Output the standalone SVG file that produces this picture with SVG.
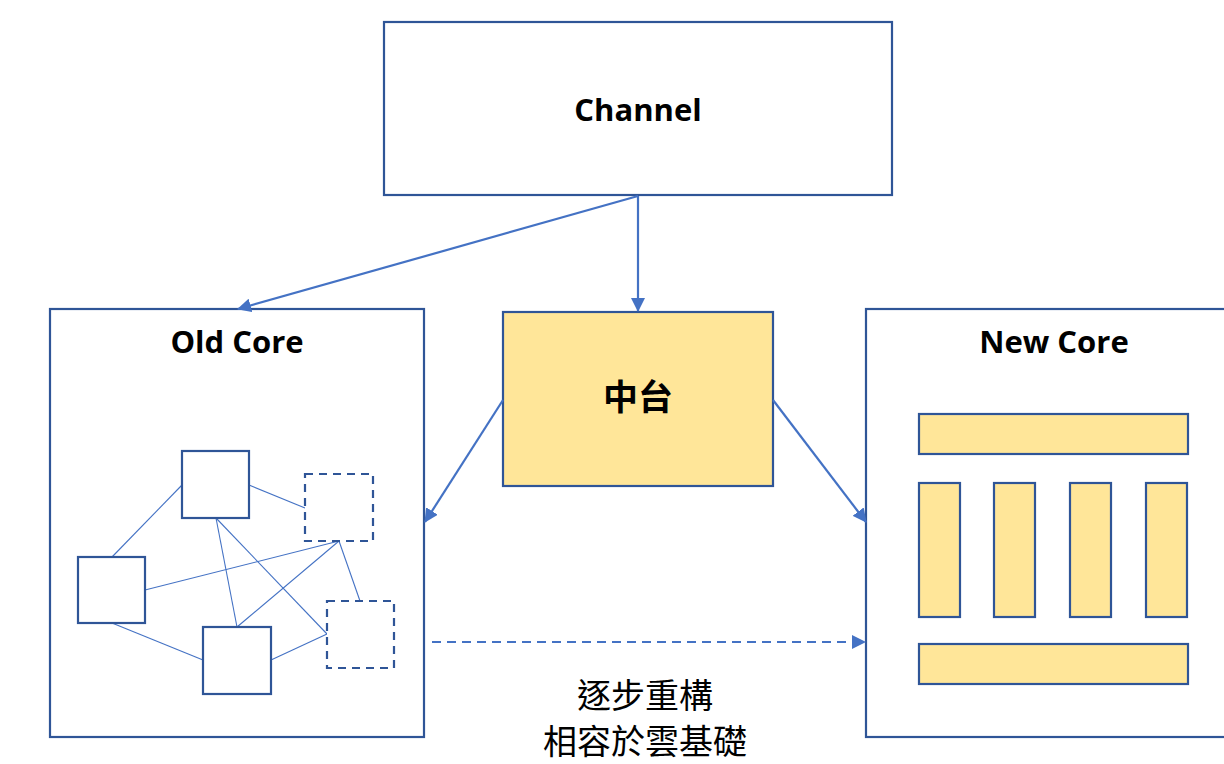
<svg xmlns="http://www.w3.org/2000/svg" width="1224" height="764" viewBox="0 0 1224 764">
<style>
.box{fill:#FFFFFF;stroke:#2F5597;stroke-width:2.2}
.ybox{fill:#FFE699;stroke:#2F5597;stroke-width:2.2}
.dbox{fill:#FFFFFF;stroke:#2F5597;stroke-width:2.2;stroke-dasharray:8,6}
.thin{stroke:#4472C4;stroke-width:1.1;fill:none}
.conn{stroke:#4472C4;stroke-width:2.2;fill:none}
.lbl{font-family:"Open Sans","Liberation Sans",sans-serif;font-weight:700;font-size:31px;fill:#000;text-anchor:middle}
.cjkb{font-family:"Noto Sans CJK TC","Noto Sans CJK SC",sans-serif;font-weight:700;font-size:35px;fill:#000;text-anchor:middle}
.cjk{font-family:"Noto Sans CJK TC","Noto Sans CJK SC",sans-serif;font-weight:400;font-size:34px;fill:#000;text-anchor:middle}
</style>
<defs>
<marker id="arr" markerUnits="userSpaceOnUse" markerWidth="14" markerHeight="14" viewBox="0 0 14 14" refX="13" refY="7" orient="auto">
<path d="M0,0 L14,7 L0,14 Z" fill="#4472C4"/>
</marker>
</defs>
<rect width="1224" height="764" fill="#FFFFFF"/>

<g id="channel">
<rect class="box" x="384" y="22" width="508" height="173"/>
<text class="lbl" x="638" y="121">Channel</text>
</g>

<g id="old-core">
<rect class="box" x="50" y="309" width="374" height="428"/>
<text class="lbl" x="237" y="353">Old Core</text>
<g id="old-core-links">
<line class="thin" x1="182" y1="485" x2="112" y2="557"/>
<line class="thin" x1="249" y1="485" x2="305" y2="508"/>
<line class="thin" x1="216" y1="518" x2="237" y2="627"/>
<line class="thin" x1="216" y1="518" x2="327" y2="634"/>
<line class="thin" x1="339" y1="541" x2="145" y2="590"/>
<line class="thin" x1="339" y1="541" x2="237" y2="627"/>
<line class="thin" x1="339" y1="541" x2="360" y2="601"/>
<line class="thin" x1="112" y1="623" x2="203" y2="660"/>
<line class="thin" x1="271" y1="660" x2="327" y2="634"/>
</g>
<rect class="box" x="182" y="451" width="67" height="67"/>
<rect class="dbox" x="305" y="474" width="68" height="67"/>
<rect class="box" x="78" y="557" width="67" height="66"/>
<rect class="box" x="203" y="627" width="68" height="67"/>
<rect class="dbox" x="327" y="601" width="67" height="67"/>
</g>

<g id="zhongtai">
<rect class="ybox" x="503" y="312" width="270" height="174"/>
<text class="cjkb" x="638" y="410">中台</text>
</g>

<g id="new-core">
<rect class="box" x="866" y="309" width="380" height="428"/>
<text class="lbl" x="1054" y="353">New Core</text>
<rect class="ybox" x="919" y="414" width="269" height="40"/>
<rect class="ybox" x="919" y="483" width="41" height="134"/>
<rect class="ybox" x="994" y="483" width="41" height="134"/>
<rect class="ybox" x="1070" y="483" width="41" height="134"/>
<rect class="ybox" x="1146" y="483" width="41" height="134"/>
<rect class="ybox" x="919" y="644" width="269" height="40"/>
</g>

<g id="connectors">
<line class="conn" x1="638" y1="196" x2="238" y2="309" marker-end="url(#arr)"/>
<line class="conn" x1="638" y1="196" x2="638" y2="311" marker-end="url(#arr)"/>
<line class="conn" x1="503" y1="400" x2="425" y2="522" marker-end="url(#arr)"/>
<line class="conn" x1="773" y1="400" x2="866" y2="522" marker-end="url(#arr)"/>
<line class="conn" x1="432" y1="642" x2="865" y2="642" stroke-dasharray="9,6" marker-end="url(#arr)"/>
</g>

<g id="label-refactor">
<text class="cjk" x="645" y="708"><tspan x="645" y="708">逐步重構</tspan><tspan x="645" y="754">相容於雲基礎</tspan></text>
</g>
</svg>
